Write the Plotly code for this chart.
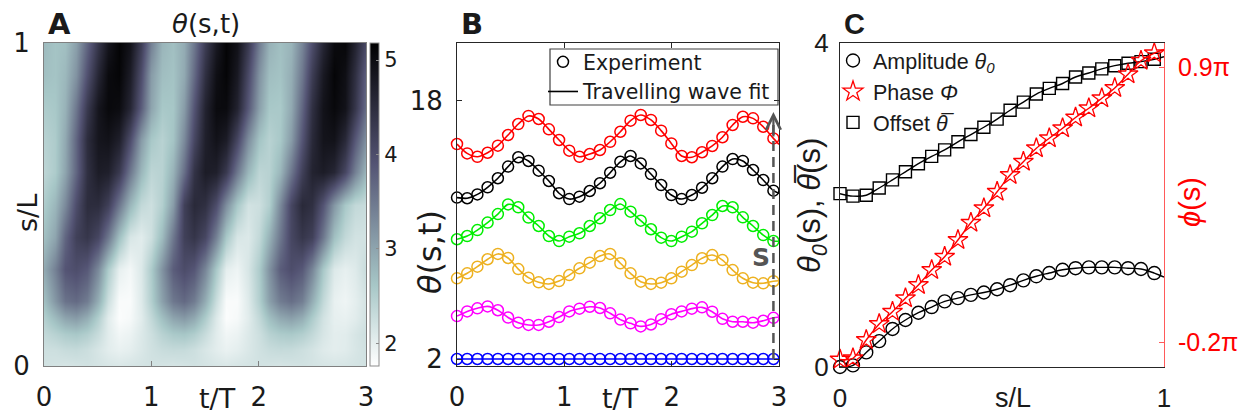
import plotly.graph_objects as go

# ---------------- data ----------------
# Panel A: theta(s,t) field, rows are s/L levels, columns are t/T samples
t_grid = [0.0, 0.1, 0.2, 0.3, 0.4, 0.5, 0.6, 0.7, 0.8, 0.9,
          1.0, 1.1, 1.2, 1.3, 1.4, 1.5, 1.6, 1.7, 1.8, 1.9,
          2.0, 2.1, 2.2, 2.3, 2.4, 2.5, 2.6, 2.7, 2.8, 2.9, 3.0]
s_rows = [0.0, 0.05, 0.1, 0.15, 0.2, 0.3, 0.4, 0.5, 0.6, 0.7, 0.8, 0.9, 1.0]
theta_s000 = [2.20, 2.18, 2.16, 2.18, 2.21, 2.18, 2.15, 2.13, 2.16, 2.18, 2.20, 2.18, 2.16, 2.18, 2.21, 2.18,
              2.15, 2.13, 2.16, 2.18, 2.20, 2.18, 2.16, 2.18, 2.20, 2.18, 2.16, 2.15, 2.16, 2.18, 2.20]
theta_s005 = [2.24, 2.25, 2.30, 2.32, 2.26, 2.15, 2.04, 1.98, 2.02, 2.12, 2.22, 2.29, 2.32, 2.31, 2.25, 2.14,
              2.04, 1.97, 2.02, 2.12, 2.22, 2.29, 2.32, 2.31, 2.25, 2.18, 2.08, 2.03, 2.06, 2.14, 2.22]
theta_s010 = [2.35, 2.45, 2.55, 2.60, 2.50, 2.30, 2.05, 1.90, 1.95, 2.10, 2.25, 2.45, 2.58, 2.62, 2.52, 2.30,
              2.05, 1.90, 1.95, 2.10, 2.25, 2.45, 2.55, 2.58, 2.50, 2.35, 2.15, 2.03, 2.05, 2.15, 2.25]
theta_s015 = [2.50, 2.75, 3.00, 3.10, 2.90, 2.50, 2.05, 1.80, 1.85, 2.05, 2.35, 2.70, 3.00, 3.12, 2.95, 2.55,
              2.10, 1.80, 1.85, 2.05, 2.35, 2.70, 2.95, 3.05, 2.90, 2.55, 2.20, 2.00, 1.98, 2.05, 2.20]
theta_s020 = [2.70, 3.15, 3.55, 3.65, 3.45, 2.90, 2.25, 1.82, 1.82, 2.08, 2.50, 3.05, 3.50, 3.66, 3.45, 2.92,
              2.28, 1.82, 1.82, 2.08, 2.50, 3.05, 3.45, 3.60, 3.42, 2.90, 2.35, 1.98, 1.92, 2.02, 2.18]
theta_s030 = [2.95, 3.40, 3.90, 4.00, 3.85, 3.30, 2.55, 2.00, 1.88, 2.10, 2.55, 3.20, 3.80, 4.02, 3.88, 3.35,
              2.60, 2.02, 1.93, 2.15, 2.55, 3.20, 3.80, 4.00, 3.85, 3.35, 2.60, 2.10, 2.00, 2.08, 2.30]
theta_s040 = [2.70, 3.00, 3.70, 4.20, 4.35, 4.10, 3.50, 2.70, 2.15, 2.05, 2.25, 2.75, 3.50, 4.20, 4.37, 4.10,
              3.40, 2.60, 2.15, 2.10, 2.35, 2.85, 3.50, 4.10, 4.35, 4.20, 3.50, 2.70, 2.35, 2.20, 2.20]
theta_s050 = [2.55, 2.80, 3.30, 4.00, 4.50, 4.50, 4.20, 3.50, 2.80, 2.35, 2.25, 2.50, 3.10, 4.20, 4.55, 4.45,
              4.00, 3.25, 2.60, 2.20, 2.25, 2.50, 3.30, 4.10, 4.55, 4.45, 3.90, 3.15, 2.60, 2.35, 2.30]
theta_s060 = [2.40, 2.55, 3.00, 3.70, 4.45, 4.75, 4.70, 4.30, 3.50, 2.80, 2.40, 2.45, 2.85, 3.60, 4.40, 4.75,
              4.70, 4.30, 3.50, 2.80, 2.40, 2.45, 2.80, 3.50, 4.20, 4.65, 4.75, 4.60, 4.10, 3.40, 2.80]
theta_s070 = [2.45, 2.55, 2.95, 3.70, 4.50, 4.85, 4.90, 4.70, 4.00, 3.10, 2.60, 2.45, 2.65, 3.30, 4.10, 4.70,
              4.90, 4.75, 4.10, 3.25, 2.65, 2.45, 2.60, 3.10, 3.90, 4.55, 4.88, 4.90, 4.55, 3.85, 3.20]
theta_s080 = [2.55, 2.60, 2.85, 3.50, 4.30, 4.85, 5.05, 5.00, 4.60, 3.80, 3.00, 2.60, 2.62, 3.10, 3.90, 4.65,
              5.02, 5.02, 4.65, 3.85, 3.05, 2.60, 2.58, 2.95, 3.70, 4.45, 4.90, 5.05, 4.90, 4.35, 3.60]
theta_s090 = [2.70, 2.65, 2.78, 3.20, 3.95, 4.60, 5.02, 5.10, 4.75, 4.00, 3.10, 2.72, 2.66, 2.95, 3.65, 4.45,
              4.95, 5.10, 4.80, 4.05, 3.20, 2.72, 2.66, 2.90, 3.50, 4.25, 4.80, 5.10, 4.95, 4.45, 3.75]
theta_s100 = [2.75, 2.65, 2.70, 3.05, 3.70, 4.35, 4.85, 5.12, 4.90, 4.25, 3.40, 2.82, 2.70, 2.92, 3.50, 4.25,
              4.80, 5.12, 4.92, 4.30, 3.45, 2.86, 2.70, 2.82, 3.35, 4.00, 4.60, 5.02, 5.08, 4.65, 4.05]
theta_min, theta_max = 1.76, 5.18

# Panel B: stacked time series at six positions along the body
t_frames = [0.0, 0.095, 0.19, 0.285, 0.381, 0.476, 0.571, 0.666, 0.761, 0.856, 0.951,
            1.046, 1.141, 1.237, 1.332, 1.427, 1.522, 1.617, 1.712, 1.807, 1.902,
            1.997, 2.093, 2.188, 2.283, 2.378, 2.473, 2.568, 2.663, 2.758, 2.853, 2.948]
series_blue = [2.0] * 32
series_magenta = [4.66, 4.95, 5.14, 5.26, 5.02, 4.57, 4.25, 4.11, 4.11, 4.31, 4.60, 4.95, 5.12, 5.24, 5.16, 4.83,
                  4.44, 4.21, 4.02, 4.14, 4.47, 4.78, 4.95, 5.12, 5.20, 4.93, 4.49, 4.31, 4.31, 4.25, 4.37, 4.55]
series_orange = [7.00, 7.31, 7.72, 8.18, 8.51, 8.26, 7.57, 7.04, 6.75, 6.65, 6.83, 7.20, 7.62, 7.97, 8.38, 8.51,
                 7.93, 7.31, 6.79, 6.65, 6.73, 7.00, 7.41, 7.82, 8.24, 8.44, 8.13, 7.51, 7.00, 6.73, 6.69, 6.82]
series_green = [9.42, 9.62, 9.99, 10.45, 10.98, 11.58, 11.40, 10.76, 10.24, 9.62, 9.31, 9.58, 9.79, 10.24, 10.72, 11.23,
                11.60, 11.13, 10.57, 10.04, 9.52, 9.31, 9.58, 9.89, 10.41, 10.92, 11.48, 11.40, 10.78, 10.24, 9.68, 9.31]
series_black = [12.00, 11.96, 12.20, 12.64, 13.20, 13.92, 14.50, 14.27, 13.67, 13.03, 12.27, 11.91, 12.06, 12.41, 12.89, 13.54,
                14.22, 14.58, 14.12, 13.46, 12.78, 12.16, 11.91, 12.16, 12.61, 13.20, 13.92, 14.39, 14.27, 13.71, 13.09, 12.43]
series_red = [15.32, 14.74, 14.53, 14.78, 15.22, 15.88, 16.56, 17.06, 16.87, 16.23, 15.57, 14.91, 14.53, 14.70, 14.95, 15.46,
              16.08, 16.77, 17.12, 16.81, 16.15, 15.36, 14.58, 14.50, 14.81, 15.20, 15.74, 16.50, 17.01, 16.91, 16.39, 15.67]
# travelling-wave fit value at the end of the window (t/T = 3)
fit_end_t = 3.0
fit_end = {"blue": 2.0, "magenta": 4.60, "orange": 6.85, "green": 9.30, "black": 12.27, "red": 15.30}
arrow_top = 17.3

# Panel C: fitted travelling-wave parameters along s/L
s_nodes = [0.0, 0.040, 0.081, 0.121, 0.162, 0.202, 0.242, 0.283, 0.323, 0.364, 0.404, 0.444, 0.485,
           0.525, 0.566, 0.606, 0.646, 0.687, 0.727, 0.768, 0.808, 0.848, 0.889, 0.929, 0.970]
amplitude = [0.0, 0.02, 0.18, 0.32, 0.47, 0.58, 0.67, 0.74, 0.81, 0.85, 0.89, 0.92, 0.96,
             1.01, 1.07, 1.12, 1.16, 1.20, 1.22, 1.23, 1.23, 1.23, 1.22, 1.21, 1.16]
phase_over_pi = [-0.270, -0.265, -0.192, -0.128, -0.079, -0.025, 0.028, 0.088, 0.141, 0.208, 0.277, 0.335, 0.401,
                 0.468, 0.521, 0.575, 0.615, 0.655, 0.698, 0.735, 0.775, 0.816, 0.871, 0.925, 0.955]
offset = [2.14, 2.11, 2.12, 2.21, 2.31, 2.41, 2.51, 2.60, 2.68, 2.78, 2.87, 2.96, 3.06,
          3.17, 3.27, 3.37, 3.44, 3.50, 3.58, 3.63, 3.68, 3.72, 3.75, 3.77, 3.80]
fit_end_s = 1.0
amplitude_fit_end, phase_fit_end, offset_fit_end = 1.11, 0.97, 3.83

# ---------------- layout helpers ----------------
W, H = 1255, 419
FONT_AB = "DejaVu Sans"
FONT_C = "Liberation Sans, Arial, sans-serif"
TXT = "#1a1a1a"


def fx(p):
    return p / W


def fy(p):
    return 1 - p / H


# reversed MATLAB "bone": white at low values, black at high values
bone_r = [[0.0, "rgb(255,255,255)"], [0.25, "rgb(167,199,199)"],
          [0.625, "rgb(84,84,116)"], [1.0, "rgb(0,0,0)"]]

fig = go.Figure()

# ---------------- panel A ----------------
fig.add_trace(go.Heatmap(
    x=t_grid, y=s_rows,
    z=[theta_s000, theta_s005, theta_s010, theta_s015, theta_s020, theta_s030, theta_s040,
       theta_s050, theta_s060, theta_s070, theta_s080, theta_s090, theta_s100],
    zmin=theta_min, zmax=theta_max, zsmooth="best", colorscale=bone_r,
    xaxis="x", yaxis="y", hoverinfo="skip",
    colorbar=dict(x=fx(370), xanchor="left", xpad=0, ypad=0,
                  y=fy(366), yanchor="bottom", len=323 / H, lenmode="fraction",
                  thickness=9, thicknessmode="pixels",
                  outlinewidth=1, outlinecolor="#8c8c8c",
                  tickvals=[2, 3, 4, 5], ticks="inside", ticklen=3, tickcolor="#8c8c8c",
                  tickfont=dict(family=FONT_AB, size=21, color=TXT)),
))

# ---------------- panel B ----------------
b_series = [("blue", "#0000ff", series_blue), ("magenta", "#ff00ff", series_magenta),
            ("orange", "#edb120", series_orange), ("green", "#00ee00", series_green),
            ("black", "#000000", series_black), ("red", "#ff0000", series_red)]
for key, col, vals in b_series:
    fig.add_trace(go.Scatter(
        x=t_frames + [fit_end_t], y=vals + [fit_end[key]], mode="lines",
        line=dict(color=col, width=1.6, shape="spline", smoothing=0.8),
        xaxis="x2", yaxis="y2", showlegend=False, hoverinfo="skip"))
for key, col, vals in b_series:
    fig.add_trace(go.Scatter(
        x=t_frames, y=vals, mode="markers",
        marker=dict(symbol="circle-open", size=11, color=col, line=dict(width=1.5, color=col)),
        xaxis="x2", yaxis="y2", showlegend=False, cliponaxis=False, hoverinfo="skip"))

# arrow along s at the end of the window
fig.add_trace(go.Scatter(
    x=[t_frames[-1], t_frames[-1]], y=[series_blue[-1], arrow_top - 0.6], mode="lines",
    line=dict(color="#555555", width=2.5, dash="10px,6px"),
    xaxis="x2", yaxis="y2", showlegend=False, hoverinfo="skip"))

# legend entries for panel B
fig.add_trace(go.Scatter(
    x=[None], y=[None], mode="markers", name="Experiment",
    marker=dict(symbol="circle-open", size=11, color="black", line=dict(width=1.5, color="black")),
    xaxis="x2", yaxis="y2", legend="legend"))
fig.add_trace(go.Scatter(
    x=[None], y=[None], mode="lines", name="Travelling wave fit",
    line=dict(color="black", width=1.6), xaxis="x2", yaxis="y2", legend="legend"))

# ---------------- panel C ----------------
fig.add_trace(go.Scatter(
    x=s_nodes + [fit_end_s], y=offset + [offset_fit_end], mode="lines",
    line=dict(color="black", width=1.4, shape="spline"), xaxis="x3", yaxis="y3",
    showlegend=False, hoverinfo="skip"))
fig.add_trace(go.Scatter(
    x=s_nodes + [fit_end_s], y=amplitude + [amplitude_fit_end], mode="lines",
    line=dict(color="black", width=1.4, shape="spline"), xaxis="x3", yaxis="y3",
    showlegend=False, hoverinfo="skip"))
fig.add_trace(go.Scatter(
    x=s_nodes + [fit_end_s], y=phase_over_pi + [phase_fit_end], mode="lines",
    line=dict(color="red", width=1.4, shape="spline"), xaxis="x3", yaxis="y4",
    showlegend=False, hoverinfo="skip"))

fig.add_trace(go.Scatter(
    x=s_nodes, y=amplitude, mode="markers", name="Amplitude <i>θ<sub>0</sub></i>",
    marker=dict(symbol="circle-open", size=13, color="black", line=dict(width=1.4, color="black")),
    xaxis="x3", yaxis="y3", cliponaxis=False, legend="legend2", hoverinfo="skip"))
fig.add_trace(go.Scatter(
    x=s_nodes, y=phase_over_pi, mode="markers", name="Phase <i>Φ</i>",
    marker=dict(symbol="star-open", size=15, color="red", line=dict(width=1.3, color="red")),
    xaxis="x3", yaxis="y4", cliponaxis=False, legend="legend2", hoverinfo="skip"))
fig.add_trace(go.Scatter(
    x=s_nodes, y=offset, mode="markers", name="Offset <i>θ\u0305</i>",
    marker=dict(symbol="square-open", size=12, color="black", line=dict(width=1.4, color="black")),
    xaxis="x3", yaxis="y3", cliponaxis=False, legend="legend2", hoverinfo="skip"))


# ---------------- axes ----------------
def axis_style(font, size, linecolor="#262626", **kw):
    d = dict(showline=True, linecolor=linecolor, linewidth=1, ticks="inside", ticklen=5,
             tickcolor=linecolor, showgrid=False, zeroline=False, fixedrange=True,
             automargin=False, tickfont=dict(family=font, size=size, color=TXT))
    d.update(kw)
    return d


fig.update_layout(
    width=W, height=H, autosize=False,
    margin=dict(l=0, r=0, t=0, b=0, pad=0),
    paper_bgcolor="white", plot_bgcolor="rgba(0,0,0,0)",
    xaxis=axis_style(FONT_AB, 26, "#808080", domain=[fx(44), fx(366)], anchor="y", range=[0, 3],
                     tickvals=[0, 1, 2, 3], mirror=True, ticklabelstandoff=8),
    yaxis=axis_style(FONT_AB, 26, "#808080", domain=[fy(366), fy(43)], anchor="x", range=[0, 1],
                     tickvals=[0, 1], mirror=True, ticklabelstandoff=8, ticklen=0),
    xaxis2=axis_style(FONT_AB, 26, domain=[fx(457), fx(779)], anchor="y2", range=[0, 3],
                      tickvals=[0, 1, 2, 3], mirror="ticks", ticklabelstandoff=8),
    yaxis2=axis_style(FONT_AB, 26, domain=[fy(366), fy(43)], anchor="x2", range=[1.566, 21.58],
                      tickvals=[2, 18], mirror="ticks", ticklabelstandoff=8),
    xaxis3=axis_style(FONT_C, 26, domain=[fx(840), fx(1164)], anchor="y3", range=[0, 1],
                      tickvals=[0, 1], mirror=True, ticklabelstandoff=8),
    yaxis3=axis_style(FONT_C, 26, domain=[fy(367), fy(43)], anchor="x3", range=[0, 4],
                      tickvals=[0, 4], mirror=False, ticklabelstandoff=5),
    yaxis4=axis_style(FONT_C, 25, "#ff5a5a", overlaying="y3", side="right", anchor="x3",
                      range=[-0.3, 0.996], tickvals=[-0.2, 0.9], ticktext=["-0.2π", "0.9π"],
                      tickfont=dict(family=FONT_C, size=25, color="#ff0000"), ticklabelstandoff=8),
    legend=dict(x=fx(543), y=fy(42), xanchor="left", yanchor="top",
                bgcolor="rgba(0,0,0,0)", borderwidth=0,
                font=dict(family=FONT_AB, size=20.5, color=TXT), tracegroupgap=0, itemwidth=30),
    legend2=dict(x=fx(833), y=fy(40), xanchor="left", yanchor="top",
                 bgcolor="rgba(0,0,0,0)", borderwidth=0,
                 font=dict(family=FONT_C, size=21.5, color=TXT), tracegroupgap=0, itemwidth=30),
    # frame around the panel-B legend
    shapes=[dict(type="rect", xref="paper", yref="paper", x0=fx(550), x1=fx(778), y0=fy(105), y1=fy(49),
                 line=dict(color="#404040", width=1.2), fillcolor="rgba(255,255,255,0)", layer="above")],
)

# ---------------- labels ----------------
ann = []


def label(x, y, text, size, font, color=TXT, angle=0, xanchor="center", bold=False):
    ann.append(dict(x=fx(x), y=fy(y), xref="paper", yref="paper", text=f"<b>{text}</b>" if bold else text,
                    showarrow=False, xanchor=xanchor, yanchor="middle", textangle=angle,
                    font=dict(family=font, size=size, color=color)))


label(46, 24, "A", 29, FONT_AB, xanchor="left", bold=True)
label(459, 24, "B", 29, FONT_AB, xanchor="left", bold=True)
label(842, 24, "C", 29, FONT_C, xanchor="left", bold=True)
label(206, 24, "<i>θ</i>(s,t)", 26, FONT_AB)
label(27, 213, "s/L", 27, FONT_AB, angle=-90)
label(217, 398, "t/T", 27, FONT_AB)
label(430, 252, "<i>θ</i>(s,t)", 32, FONT_AB, angle=-90)
label(620, 398, "t/T", 27, FONT_AB)
label(812, 206, "<i>θ<sub>0</sub></i>(s), <i>θ\u0305</i>(s)", 31, FONT_C, angle=-90)
label(1190, 202, "<i>ϕ</i>(s)", 29, FONT_C, color="#ff0000", angle=-90)
label(1013, 398, "s/L", 27, FONT_C)

# arrow head and its label in panel B
ann.append(dict(x=t_frames[-1], y=arrow_top, xref="x2", yref="y2",
                ax=t_frames[-1], ay=arrow_top - 1.6, axref="x2", ayref="y2",
                showarrow=True, arrowhead=5, arrowsize=1.3, arrowwidth=2.2, arrowcolor="#555555", text=""))
ann.append(dict(x=2.83, y=8.3, xref="x2", yref="y2", text="<b>S</b>", showarrow=False,
                font=dict(family=FONT_AB, size=25, color="#555555")))

fig.update_layout(annotations=ann)
fig.write_html("out.html")
